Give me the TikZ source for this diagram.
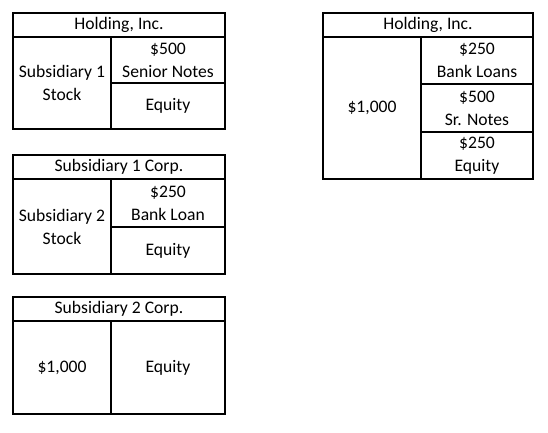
\documentclass[tikz,border=0pt]{standalone}
\usepackage{fontspec}
\setmainfont{Carlito}
\usetikzlibrary{positioning}

\begin{document}
\begin{tikzpicture}[
            x=1pt, y=-1pt,
            cell/.style={rectangle, draw, line width=1.5pt, inner sep=0pt, outer sep=0pt,
                align=center, font=\fontsize{17.6}{23}\selectfont},
            title/.style={cell, minimum width=212pt, minimum height=24pt},
            lcell/.style={cell, minimum width=98pt},
            rcell/.style={cell, minimum width=114pt}
        ]
        \useasboundingbox (0,0) rectangle (548,432);

        % Holding (left)
        \node[title, anchor=north west] (hold) at (13,13) {Holding, Inc.};
        \node[lcell, minimum height=92pt, below=0pt of hold.south west, anchor=north west] (holdstock) {Subsidiary 1\\Stock};
        \node[rcell, minimum height=46pt, below=0pt of hold.south east, anchor=north east] (holdnotes) {\$500\\Senior Notes};
        \node[rcell, minimum height=46pt, below=0pt of holdnotes] (holdeq) {Equity};

        % Subsidiary 1
        \node[title, anchor=north west] (sub1) at (13,155) {Subsidiary 1 Corp.};
        \node[lcell, minimum height=95pt, below=0pt of sub1.south west, anchor=north west] (sub1stock) {Subsidiary 2\\Stock};
        \node[rcell, minimum height=48pt, below=0pt of sub1.south east, anchor=north east] (sub1loan) {\$250\\Bank Loan};
        \node[rcell, minimum height=47pt, below=0pt of sub1loan] (sub1eq) {Equity};

        % Subsidiary 2
        \node[title, anchor=north west] (sub2) at (13,297) {Subsidiary 2 Corp.};
        \node[lcell, minimum height=93pt, below=0pt of sub2.south west, anchor=north west] (sub2assets) {\$1,000};
        \node[rcell, minimum height=93pt, below=0pt of sub2.south east, anchor=north east] (sub2eq) {Equity};

        % Holding (consolidated)
        \node[title, minimum width=210pt, anchor=north west] (cons) at (323,13) {Holding, Inc.};
        \node[lcell, minimum height=142pt, below=0pt of cons.south west, anchor=north west] (consassets) {\$1,000};
        \node[rcell, minimum width=112pt, minimum height=47pt, below=0pt of cons.south east, anchor=north east] (consloans) {\$250\\Bank Loans};
        \node[rcell, minimum width=112pt, minimum height=48pt, below=0pt of consloans] (consnotes) {\$500\\Sr. Notes};
        \node[rcell, minimum width=112pt, minimum height=47pt, below=0pt of consnotes] (conseq) {\$250\\Equity};

    \end{tikzpicture}
\end{document}
